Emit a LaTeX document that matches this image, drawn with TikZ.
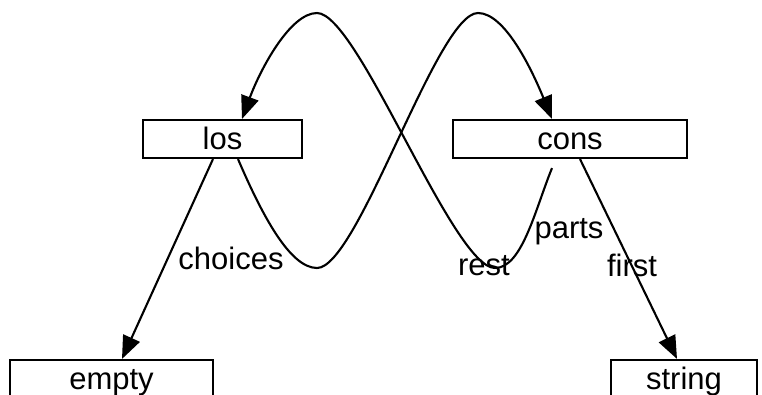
\documentclass[tikz,border=0pt]{standalone}
\usepackage{fontspec}
\setmainfont{Liberation Sans}
\usetikzlibrary{arrows.meta}
\begin{document}
\begin{tikzpicture}[x=1pt,y=-1pt,
  box/.style={draw,line width=2.1pt,rectangle,inner sep=0pt,minimum height=38pt,
    font=\fontsize{31}{36}\selectfont,text height=22pt,text depth=2pt},
  lbl/.style={inner sep=0pt,font=\fontsize{31}{36}\selectfont,text height=22pt,text depth=2pt},
  link/.style={line width=2.1pt,-{Triangle[length=23pt,width=18pt]}}]
\useasboundingbox (0,0) rectangle (762,394);
\clip (0,0) rectangle (762,394);
\node[box,minimum width=159pt] (los) at (222.5,139) {los};
\node[box,minimum width=234pt] (cons) at (570,139) {cons};
\node[box,minimum width=203pt] (empty) at (111.5,379) {empty};
\node[box,minimum width=146pt] (string) at (684,379) {string};
% los -> empty
\draw[link] ([xshift=-9.5pt]los.south) -- ([xshift=10.5pt]empty.north);
% cons -> string
\draw[link] ([xshift=10pt]cons.south) -- ([xshift=-7pt]string.north);
% los -> cons (curve A)
\draw[link] ([xshift=15.5pt]los.south) .. controls (262,215) and (290,268) .. (317,268)
  .. controls (358,268) and (437,13) .. (478,13)
  .. controls (505,13) and (532,70) .. ([xshift=-18pt]cons.north);
% cons -> los (curve B)
\draw[link] ([xshift=-18pt,yshift=-9pt]cons.south) .. controls (535,210) and (522,268) .. (495,268)
  .. controls (453,268) and (358,13) .. (317,13)
  .. controls (290,13) and (260,70) .. ([xshift=19.5pt]los.north);
\node[lbl] (lchoices) at (231,259) {choices};
\node[lbl] (lrest) at (484,265) {rest};
\node[lbl] (lparts) at (569,228) {parts};
\node[lbl] (lfirst) at (632,266) {first};
\end{tikzpicture}
\end{document}
